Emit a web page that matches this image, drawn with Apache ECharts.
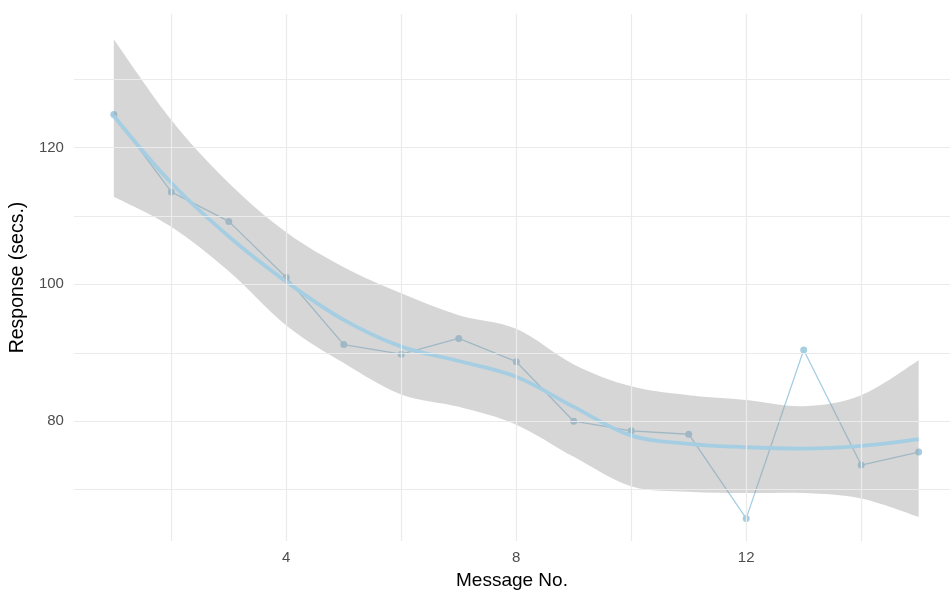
<!DOCTYPE html>
<html>
<head>
<meta charset="utf-8">
<script src="https://cdn.jsdelivr.net/npm/echarts@6/dist/echarts.min.js"></script>
<style>html,body{margin:0;padding:0;background:#fff;}#c{width:950px;height:595px;}</style>
</head>
<body>
<div id="c"></div>
<script>
const messageNo = [1,2,3,4,5,6,7,8,9,10,11,12,13,14,15];
const response = [124.8,113.5,109.2,101.0,91.2,89.8,92.1,88.7,80.0,78.6,78.1,65.8,90.4,73.6,75.5];
const fitted = [124.6,114.8,107.0,100.4,94.8,90.9,88.8,86.5,82.1,77.9,76.7,76.2,76.0,76.4,77.4];
const upperCI = [135.8,124.0,114.8,107.6,102.5,98.7,95.5,93.5,88.3,85.1,83.8,83.1,82.2,83.8,88.9];
const lowerCI = [112.8,108.4,101.9,94.0,88.5,83.9,82.1,79.5,74.8,70.5,69.7,69.5,69.5,68.7,66.0];
const xGrid = [2,4,6,8,10,12,14];
const yGrid = [70,80,90,100,110,120,130];
const xLabels = [4,8,12];
const yLabels = [80,100,120];

const FONT = '"Liberation Sans", Arial, sans-serif';
const pair = (a) => messageNo.map((x,i) => [x, a[i]]);

const gridMarks = [].concat(
  xGrid.map(v => ({xAxis: v})),
  yGrid.map(v => ({yAxis: v}))
);

// smooth path segment through pixel points (Catmull-Rom style bezier)
function curveTo(pts, t) {
  let d = '';
  for (let i = 0; i < pts.length - 1; i++) {
    const p0 = pts[Math.max(i - 1, 0)], p1 = pts[i], p2 = pts[i + 1], p3 = pts[Math.min(i + 2, pts.length - 1)];
    const c1 = [p1[0] + (p2[0] - p0[0]) * t, p1[1] + (p2[1] - p0[1]) * t];
    const c2 = [p2[0] - (p3[0] - p1[0]) * t, p2[1] - (p3[1] - p1[1]) * t];
    d += ' C' + c1[0] + ',' + c1[1] + ' ' + c2[0] + ',' + c2[1] + ' ' + p2[0] + ',' + p2[1];
  }
  return d;
}

const chart = echarts.init(document.getElementById('c'), null, {renderer:'canvas'});
chart.setOption({
  animation: false,
  backgroundColor: '#ffffff',
  grid: {left: 73, right: 0, top: 14, bottom: 53, containLabel: false},
  xAxis: {
    type: 'value', min: 0.306, max: 15.545,
    name: 'Message No.', nameLocation: 'middle', nameGap: 30,
    nameTextStyle: {color: '#000', fontSize: 19, fontFamily: FONT},
    axisLine: {show: false}, axisTick: {show: false}, splitLine: {show: false},
    axisLabel: {customValues: xLabels, color: '#4d4d4d', fontSize: 15, fontFamily: FONT, margin: 9}
  },
  yAxis: {
    type: 'value', min: 62.5, max: 139.5,
    name: 'Response (secs.)', nameLocation: 'middle', nameGap: 42, nameRotate: 90,
    nameTextStyle: {color: '#000', fontSize: 19.5, fontFamily: FONT},
    axisLine: {show: false}, axisTick: {show: false}, splitLine: {show: false},
    axisLabel: {customValues: yLabels, color: '#4d4d4d', fontSize: 15, fontFamily: FONT, margin: 10}
  },
  series: [
    {
      type: 'line', name: 'grid', data: pair(response), z: 0, silent: true,
      symbol: 'none', lineStyle: {opacity: 0},
      markLine: {
        silent: true, symbol: 'none', animation: false,
        label: {show: false},
        lineStyle: {color: '#ebebeb', width: 1.2, type: 'solid'},
        emphasis: {disabled: true},
        data: gridMarks
      }
    },
    {
      type: 'line', name: 'response', data: pair(response), z: 2,
      symbol: 'circle', symbolSize: 7, showSymbol: true,
      itemStyle: {color: '#a6cee3'},
      lineStyle: {color: '#a6cee3', width: 1.3}
    },
    {
      type: 'custom', name: 'ci', z: 3, silent: true,
      data: [[0]],
      renderItem: function (params, api) {
        const up = messageNo.map((x, i) => api.coord([x, upperCI[i]]));
        const lo = messageNo.map((x, i) => api.coord([x, lowerCI[i]])).reverse();
        let d = 'M' + up[0][0] + ',' + up[0][1] + curveTo(up, 0.17);
        d += ' L' + lo[0][0] + ',' + lo[0][1] + curveTo(lo, 0.17) + ' Z';
        return {
          type: 'path',
          shape: {pathData: d},
          style: {fill: 'rgba(153,153,153,0.4)', stroke: null}
        };
      }
    },
    {
      type: 'line', name: 'fit', data: pair(fitted), z: 4,
      symbol: 'none', smooth: 0.35,
      lineStyle: {color: '#a6cee3', width: 3.8}
    }
  ]
});
</script>
</body>
</html>
